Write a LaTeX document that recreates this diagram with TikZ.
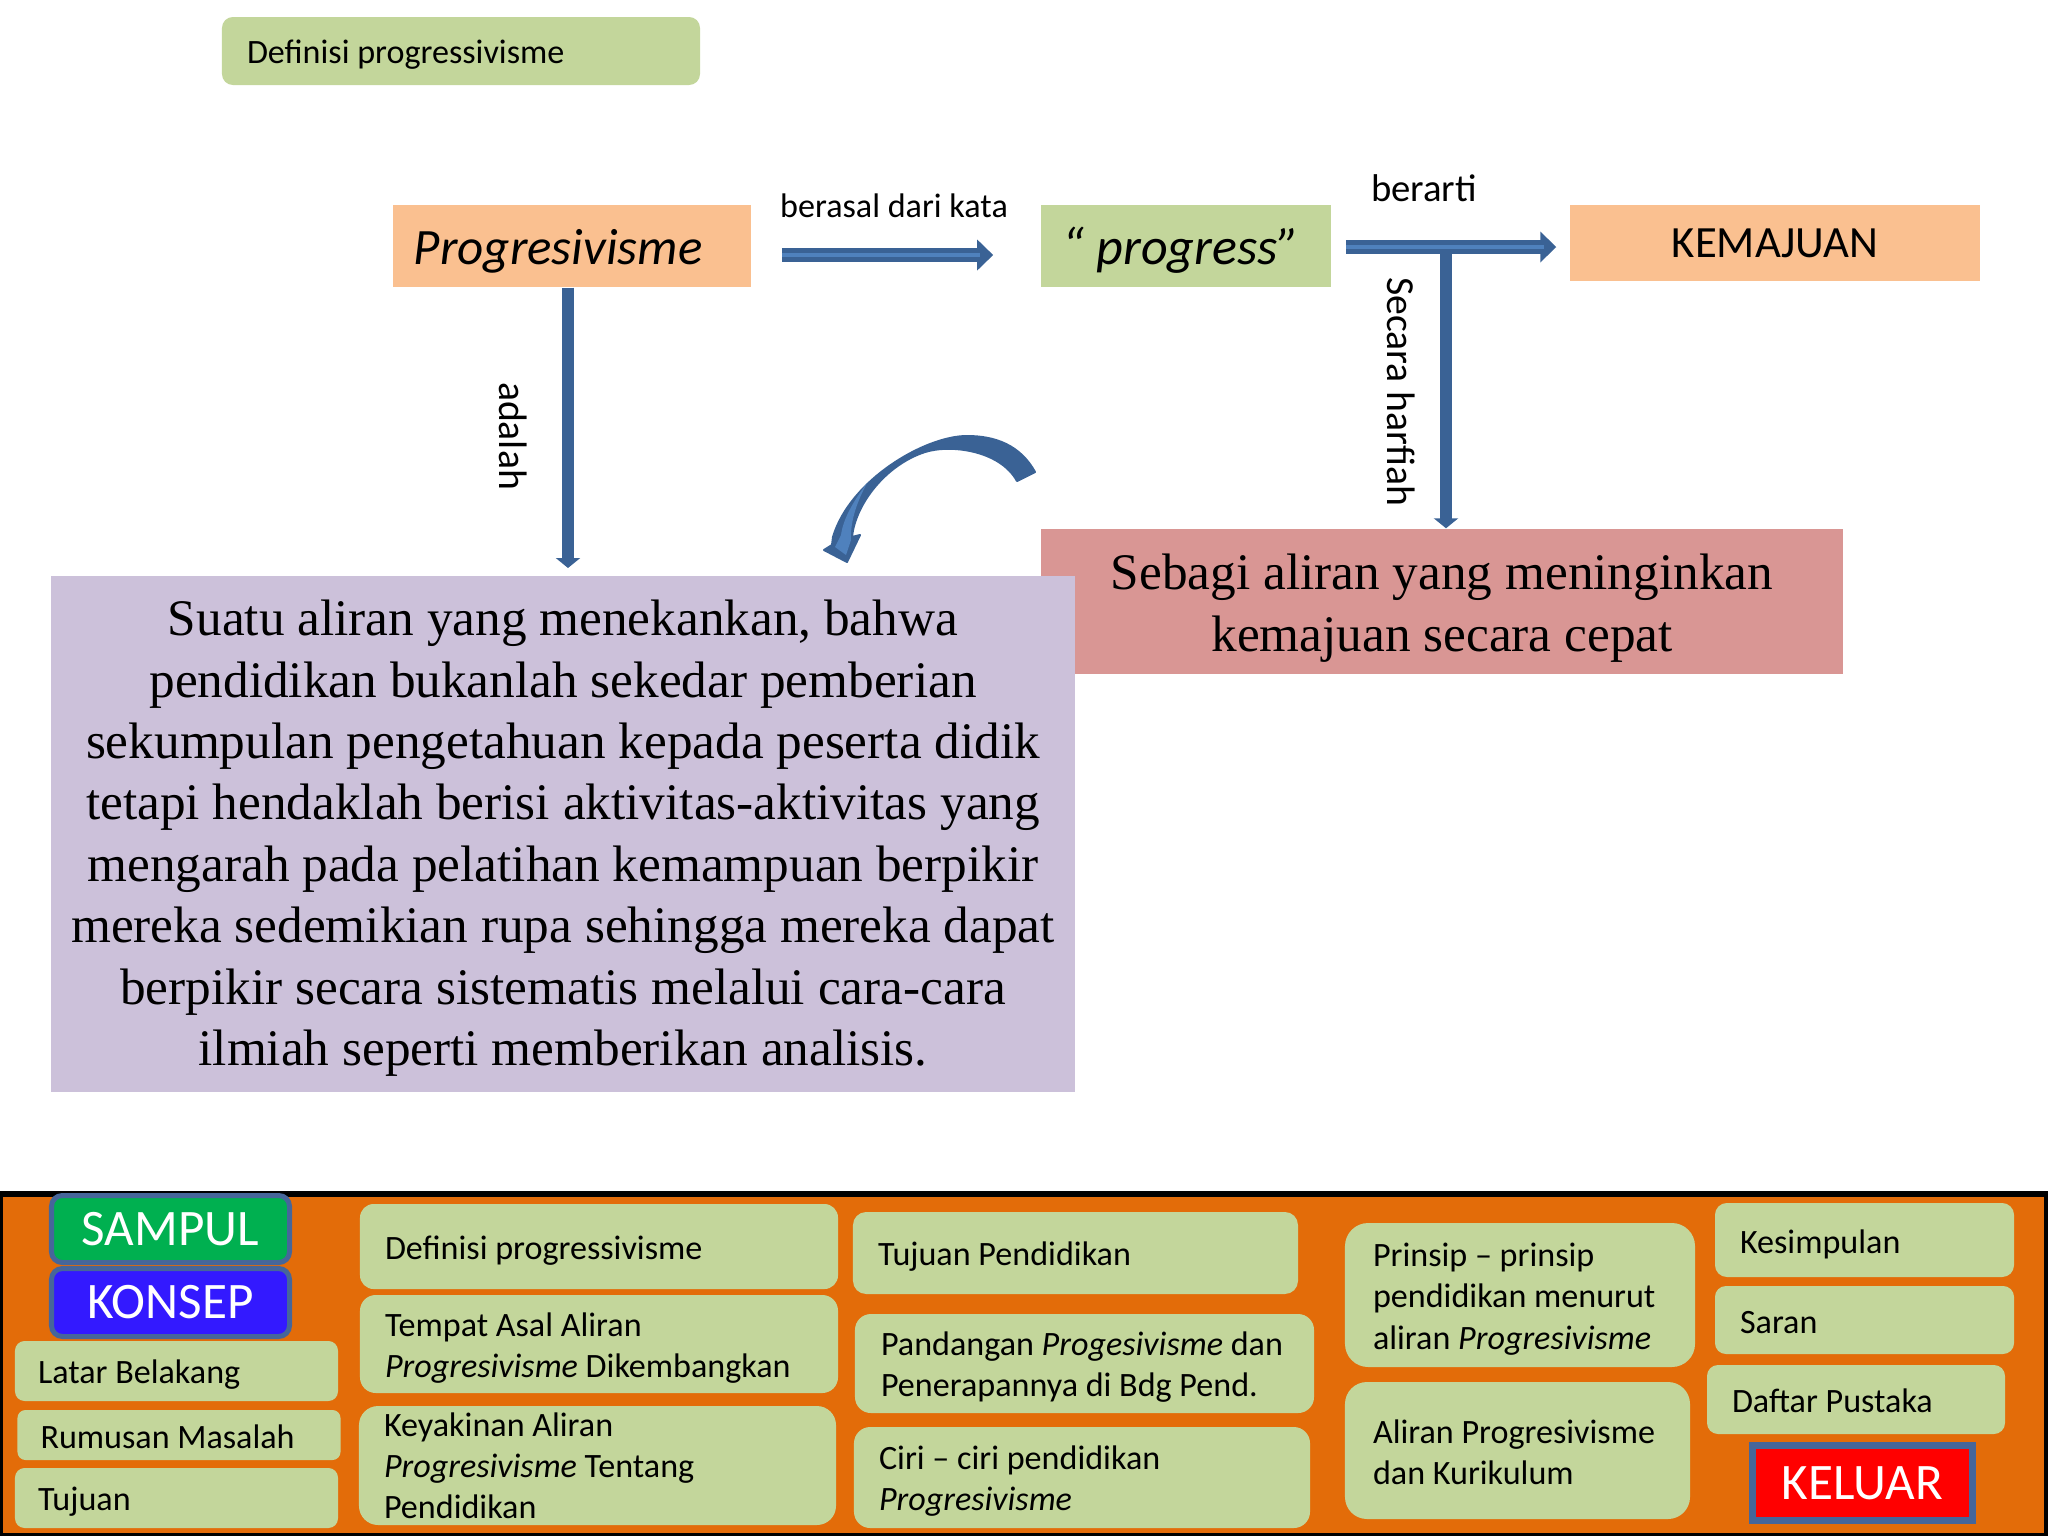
\documentclass[tikz,border=0pt]{standalone}
\usepackage{fontspec}
\setmainfont{Carlito}
\newfontfamily\bodyserif{Liberation Serif}
\usetikzlibrary{arrows.meta}
\definecolor{navgreen}{HTML}{C3D69B}
\definecolor{navorange}{HTML}{E36C09}
\definecolor{peach}{HTML}{FAC090}
\definecolor{rosebox}{HTML}{D99694}
\definecolor{lilac}{HTML}{CCC1DA}
\definecolor{arrowdark}{HTML}{3A6295}
\definecolor{arrowlight}{HTML}{4F81BD}
\definecolor{btnedge}{HTML}{46669A}
\definecolor{btnblue}{HTML}{3319FF}
\definecolor{btngreen}{HTML}{00B050}
\begin{document}
\begin{tikzpicture}[x=.01cm,y=-.01cm,
  dropht/.initial=9pt,
  dropped/.style={execute at begin node={\rule{0pt}{\pgfkeysvalueof{/tikz/dropht}}}},
  navbox/.style 2 args={fill=navgreen, text=black, align=flush left, inner xsep=.25cm, inner ysep=0pt,
    text width=#1*.01cm, minimum height=#2*.01cm, rounded corners=#2*.0016cm, dropped,
    font=\fontsize{9.7}{11.7}\selectfont},
  btn/.style 2 args={draw=btnedge, line width=.05cm, text=white, inner sep=0pt,
    minimum width=#1*.01cm, minimum height=#2*.01cm, rounded corners=#2*.0016cm,
    font=\fontsize{14.55}{16}\selectfont},
  flatbox/.style 2 args={inner sep=0pt, minimum width=#1*.01cm, minimum height=#2*.01cm},
  serifbox/.style={align=flush center, dropped, font=\bodyserif\fontsize{14.58}{17.46}\selectfont},
  lbl/.style={inner sep=0pt, font=\fontsize{11.3}{13}\selectfont},
  thinarrow/.style={draw=arrowdark, line width=.115cm, -{Triangle[length=.1cm,width=.24cm]}},
  blockarrow/.style={draw=arrowdark, line width=.14cm, -{Triangle[length=.16cm,width=.3cm]}},
  blockglow/.style={draw=arrowlight, line width=.035cm}]
\useasboundingbox (0,0) rectangle (2048,1536);
\node[navbox={428}{68}] (topdef) at (461,51){Definisi progressivisme};
\node[flatbox={358}{82}, fill=peach, inner xsep=.21cm, text width=3.16cm, align=flush left, dropped, dropht=12.8pt, font=\fontsize{14.5}{16}\itshape] (prog) at (572,246){Progresivisme};
\node[flatbox={290}{82}, fill=navgreen, inner xsep=.22cm, text width=2.46cm, align=flush left, dropped, dropht=12.8pt, font=\fontsize{14.8}{16}\itshape] (word) at (1186,246){“ progress”};
\node[flatbox={410}{76}, fill=peach, text height=.39cm, text depth=.1cm, font=\fontsize{12.7}{14}\selectfont] (maju) at (1775,243){KEMAJUAN};
\node[flatbox={802}{145}, fill=rosebox, serifbox, text width=8.02cm, dropht=14pt] (cepat) at (1442,601.5){Sebagi aliran yang meninginkan\\kemajuan secara cepat};
\node[flatbox={1024}{516}, fill=lilac, serifbox, text width=10.24cm, dropht=12.5pt] (isi) at (563,834){Suatu aliran yang menekankan, bahwa\\pendidikan bukanlah sekedar pemberian\\sekumpulan pengetahuan kepada peserta didik\\tetapi hendaklah berisi aktivitas-aktivitas yang\\mengarah pada pelatihan kemampuan berpikir\\mereka sedemikian rupa sehingga mereka dapat\\berpikir secara sistematis melalui cara-cara\\ilmiah seperti memberikan analisis.};
\node[lbl, font=\fontsize{9.7}{11}\selectfont] (katalbl) at (894,206){berasal dari kata};
\node[lbl, font=\fontsize{11}{13}\selectfont] (artilbl) at (1424,188){berarti};
\node[lbl, rotate=-90] (adalahlbl) at (513,436){adalah};
\node[lbl, rotate=-90] (harfiahlbl) at (1401,392){Secara harfiah};
\coordinate (isitop) at (568,568);
\coordinate (tee) at (1446,247);
\draw[thinarrow](prog.south -| isitop) -- (isitop);
\draw[thinarrow](tee) -- (tee |- cepat.north);
\draw[blockarrow, shorten <=.3cm, shorten >=.47cm]([yshift=-.09cm]prog.east) -- ([yshift=-.09cm]prog.east -| word.west);
\draw[blockglow, shorten <=.3cm, shorten >=.6cm]([yshift=-.09cm]prog.east) -- ([yshift=-.09cm]prog.east -| word.west);
\draw[blockarrow, shorten <=.14cm, shorten >=.13cm]([yshift=-.01cm]word.east) -- ([yshift=-.01cm]word.east -| maju.west);
\draw[blockglow, shorten <=.14cm, shorten >=.25cm]([yshift=-.01cm]word.east) -- ([yshift=-.01cm]word.east -| maju.west);
\filldraw[arrowdark, line width=.02cm, line join=round](1035,472) .. controls (1020,445) and (995,436) .. (967,436) .. controls (925,436) and (850,480) .. (833,537) -- (832,545) -- (824,550) -- (847,562) -- (860,535) -- (852,537) .. controls (855,505) and (885,465) .. (925,452) .. controls (950,444) and (1000,450) .. (1017,481) -- cycle;
\fill[arrowlight](867,483) .. controls (852,503) and (843,520) .. (841,535) -- (835,547) -- (846,555) -- (851,540) .. controls (850,520) and (858,500) .. (867,483) -- cycle;
\fill[black](0,1191) rectangle (2048,1536);
\fill[navorange](3,1197) rectangle (2044,1533);
\node[btn={238}{67}, fill=btngreen] (sampul) at (170.5,1229){SAMPUL};
\node[btn={238}{68}, fill=btnblue] (konsep) at (170.5,1302.5){KONSEP};
\node[btn={220}{75}, fill=red, rounded corners=0pt, line width=.07cm] (keluar) at (1862.5,1483){KELUAR};
\node[navbox={277}{60}, inner xsep=.23cm] (latar) at (176.5,1371){Latar Belakang};
\node[navbox={277}{50}, inner xsep=.23cm, dropht=7.5pt] (rumusan) at (179,1435){Rumusan Masalah};
\node[navbox={277}{60}, inner xsep=.23cm] (tujuan) at (176.5,1498){Tujuan};
\node[navbox={428}{85}] (definisi) at (599,1246.5){Definisi progressivisme};
\node[navbox={428}{98}] (tempat) at (599,1344){Tempat Asal Aliran\\\textit{Progresivisme} Dikembangkan};
\node[navbox={427}{119}, dropht=6pt] (keyakinan) at (597.5,1465.5){Keyakinan Aliran\\\textit{Progresivisme} Tentang\\Pendidikan};
\node[navbox={395}{82}] (tujuanpend) at (1075.5,1253){Tujuan Pendidikan};
\node[navbox={407}{99}, inner xsep=.26cm] (pandangan) at (1084.5,1363.5){Pandangan \textit{Progesivisme} dan\\Penerapannya di Bdg Pend.};
\node[navbox={406}{101}] (ciri) at (1082,1477.5){Ciri -- ciri pendidikan\\\textit{Progresivisme}};
\node[navbox={294}{144}, inner xsep=.28cm] (prinsip) at (1520,1295){Prinsip -- prinsip\\pendidikan menurut\\aliran \textit{Progresivisme}};
\node[navbox={289}{137}, inner xsep=.28cm, dropht=7.5pt] (kurikulum) at (1517.5,1450.5){Aliran Progresivisme\\dan Kurikulum};
\node[navbox={249}{74}] (simpul) at (1864.5,1240){Kesimpulan};
\node[navbox={249}{68}, dropht=7.5pt] (saran) at (1864.5,1320){Saran};
\node[navbox={248}{69}, dropht=7.5pt] (pustaka) at (1856,1399.5){Daftar Pustaka};
\end{tikzpicture}
\end{document}
